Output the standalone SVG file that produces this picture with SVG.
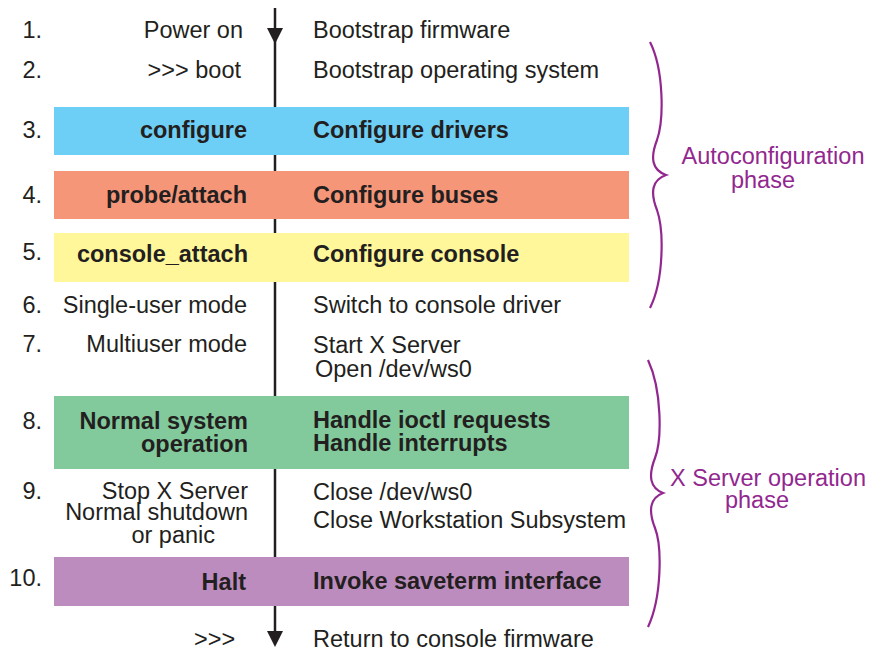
<svg xmlns="http://www.w3.org/2000/svg" width="869" height="651" viewBox="0 0 869 651">
<style>
text{font-family:"Liberation Sans",Arial,sans-serif;font-size:23.5px;fill:#231f20}
.b{font-weight:bold}
.r{text-anchor:end}
.p{fill:#92278f}
.m{text-anchor:middle}
.brace{fill:none;stroke:#92278f;stroke-width:2.2}
.flow{stroke:#231f20;stroke-width:2.5;fill:none}
</style>
<rect width="869" height="651" fill="#fff"/>
<g id="bars">
<rect id="bar3" x="54" y="107" width="575" height="48" fill="#6dcff6"/>
<rect id="bar4" x="54" y="171" width="575" height="48" fill="#f69679"/>
<rect id="bar5" x="54" y="233" width="575" height="49" fill="#fff799"/>
<rect id="bar8" x="54" y="396" width="575" height="73" fill="#82ca9c"/>
<rect id="bar10" x="54" y="557" width="575" height="49" fill="#bd8cbf"/>
</g>
<g id="connectors">
<line class="flow" x1="275" y1="8" x2="275" y2="107"/>
<line class="flow" x1="275" y1="155" x2="275" y2="171"/>
<line class="flow" x1="275" y1="219" x2="275" y2="233"/>
<line class="flow" x1="275" y1="282" x2="275" y2="396"/>
<line class="flow" x1="275" y1="469" x2="275" y2="557"/>
<line class="flow" x1="275" y1="606" x2="275" y2="634"/>
<polygon points="267,28 283,28 275,44" fill="#231f20"/>
<polygon points="267,631 283,631 275,647" fill="#231f20"/>
</g>
<g id="step1">
<text class="r" x="42" y="38">1.</text>
<text class="r" x="243" y="38">Power on</text>
<text x="313" y="38">Bootstrap firmware</text>
</g>
<g id="step2">
<text class="r" x="42" y="78">2.</text>
<text class="r" x="241" y="78">&gt;&gt;&gt; boot</text>
<text x="313" y="78">Bootstrap operating system</text>
</g>
<g id="step3">
<text class="r" x="42" y="138">3.</text>
<text class="r b" x="247" y="138">configure</text>
<text class="b" x="313" y="138">Configure drivers</text>
</g>
<g id="step4">
<text class="r" x="42" y="203">4.</text>
<text class="r b" x="247" y="203">probe/attach</text>
<text class="b" x="313" y="203">Configure buses</text>
</g>
<g id="step5">
<text class="r" x="42" y="260">5.</text>
<text class="r b" x="248" y="262">console_attach</text>
<text class="b" x="313" y="262">Configure console</text>
</g>
<g id="step6">
<text class="r" x="42" y="313">6.</text>
<text class="r" x="247" y="313">Single-user mode</text>
<text x="313" y="313">Switch to console driver</text>
</g>
<g id="step7">
<text class="r" x="42" y="352">7.</text>
<text class="r" x="247" y="352">Multiuser mode</text>
<text x="313" y="353">Start X Server</text>
<text x="315" y="377">Open /dev/ws0</text>
</g>
<g id="step8">
<text class="r" x="42" y="429">8.</text>
<text class="r b" x="248" y="429">Normal system</text>
<text class="r b" x="248" y="452">operation</text>
<text class="b" x="313" y="428">Handle ioctl requests</text>
<text class="b" x="313" y="451">Handle interrupts</text>
</g>
<g id="step9">
<text class="r" x="42" y="499">9.</text>
<text class="r" x="248" y="499">Stop X Server</text>
<text class="r" x="248" y="520">Normal shutdown</text>
<text class="r" x="215" y="543">or panic</text>
<text x="313" y="500">Close /dev/ws0</text>
<text x="313" y="528">Close Workstation Subsystem</text>
</g>
<g id="step10">
<text class="r" x="42" y="586">10.</text>
<text class="r b" x="246" y="590">Halt</text>
<text class="b" x="313" y="589">Invoke saveterm interface</text>
</g>
<g id="end">
<text x="194" y="647">&gt;&gt;&gt;</text>
<text x="313" y="647">Return to console firmware</text>
</g>
<g id="autoconfig-phase">
<path class="brace" d="M650,42 C664,70 664,120 657,140 C650,158 652,170 666,175 C652,180 650,192 657,210 C664,230 664,280 650,308"/>
<text class="p m" x="773" y="164">Autoconfiguration</text>
<text class="p m" x="763" y="188">phase</text>
</g>
<g id="xserver-phase">
<path class="brace" d="M648,360 C662,390 662,440 655,458 C648,476 650,488 663,493 C650,498 648,510 655,528 C662,546 662,597 648,627"/>
<text class="p m" x="768" y="486">X Server operation</text>
<text class="p m" x="757" y="508">phase</text>
</g>
</svg>
